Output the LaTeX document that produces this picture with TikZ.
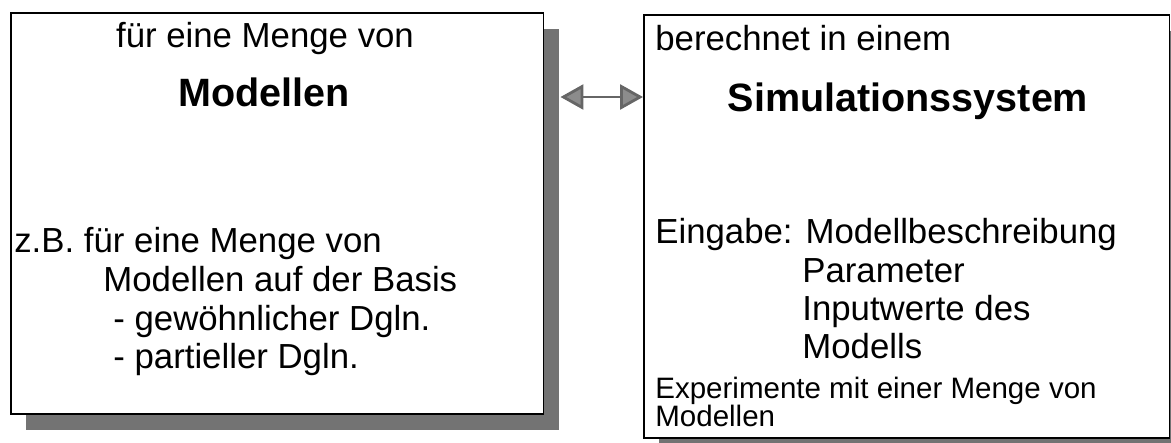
\documentclass[tikz,border=0pt]{standalone}
\usepackage{fontspec}
\setmainfont{Liberation Sans}
\usetikzlibrary{shadows,calc,arrows.meta}
\tikzset{
  kasten/.style={draw, line width=0.9pt, fill=white, inner sep=0pt, anchor=north west,
    drop shadow={shadow xshift=0.3cm, shadow yshift=-0.32cm, fill=black!55, opacity=1}},
  zeile/.style={anchor=base west, inner sep=0pt, font=\fontsize{19.8}{22}\selectfont},
  mitte/.style={zeile, anchor=base},
  fett/.style={mitte, font=\bfseries\fontsize{22.5}{25}\selectfont},
  klein/.style={zeile, font=\fontsize{16.8}{19}\selectfont},
  pfeil/.style={{Triangle[length=0.46cm,width=0.5cm,fill=black!45]}-{Triangle[length=0.46cm,width=0.5cm,fill=black!45]},
    line width=1.6pt, draw=black!60}
}
\begin{document}
\begin{tikzpicture}[x=0.02cm,y=-0.02cm]
\useasboundingbox (0,0) rectangle (1171,443);
% die beiden Kaesten
\node[kasten, minimum width=10.66cm, minimum height=8.02cm] (modelle) at (10,12) {};
\node[kasten, minimum width=10.52cm, minimum height=8.46cm] (simsys) at (643,14) {};
% linker Kasten
\node[mitte] (fuer) at (265,47) {für eine Menge von};
\node[fett] (mod) at (264,106) {Modellen};
\node[zeile] (zb) at (14,252) {z.B. für eine Menge von};
\node[zeile] (basis) at (103,291) {Modellen auf der Basis};
\node[zeile] (gew) at (113,330) {- gewöhnlicher Dgln.};
\node[zeile] (part) at (113,368) {- partieller Dgln.};
% rechter Kasten
\node[zeile] (ber) at (655,50) {berechnet in einem};
\node[fett] (sim) at (908,111) {Simulationssystem};
\node[zeile] (ein) at (655,243) {Eingabe: Modellbeschreibung};
\node[zeile] (par) at (802,282) {Parameter};
\node[zeile] (inp) at (802,320) {Inputwerte des};
\node[zeile] (mds) at (802,358) {Modells};
\node[klein] (exp) at (655,398) {Experimente mit einer Menge von};
\node[klein] (mdl) at (655,426) {Modellen};
% Verbindung
\coordinate (pl) at ($(modelle.north east)+(16,85)$);
\draw[pfeil] (pl) -- (pl -| simsys.west);
\end{tikzpicture}
\end{document}
